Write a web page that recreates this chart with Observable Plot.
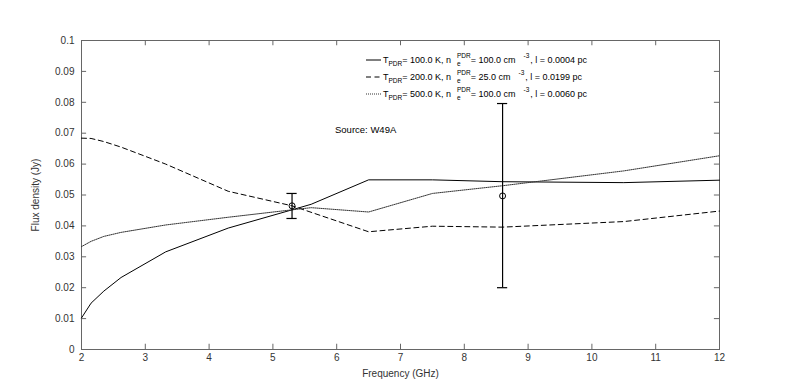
<!DOCTYPE html>
<html><head><meta charset="utf-8">
<script src="https://cdn.jsdelivr.net/npm/d3@7"></script>
<script src="https://cdn.jsdelivr.net/npm/@observablehq/plot@0.6"></script>
<style>
body{margin:0;background:#fff;}
#chart{position:relative;width:800px;height:389px;}
svg{font-family:"Liberation Sans",Arial,Helvetica,sans-serif;}
</style>
</head><body><div id="chart"></div>
<script>
// ---- data ----
const xTicks = [2, 3, 4, 5, 6, 7, 8, 9, 10, 11, 12];
const yTicks = [0, 0.01, 0.02, 0.03, 0.04, 0.05, 0.06, 0.07, 0.08, 0.09, 0.1];
const yTickLabels = ["0", "0.01", "0.02", "0.03", "0.04", "0.05", "0.06", "0.07", "0.08", "0.09", "0.1"];

const freqSolid = [2.0, 2.15, 2.35, 2.62, 3.32, 4.3, 5.3, 5.6, 6.5, 7.5, 8.6, 10.5, 12.0];
const fluxSolid = [0.0102, 0.0150, 0.0189, 0.0233, 0.0316, 0.0393, 0.0452, 0.0470, 0.0549, 0.0549, 0.0543, 0.0540, 0.0548];

const freqDashed = [2.0, 2.15, 2.35, 2.62, 3.32, 4.3, 5.3, 6.5, 7.5, 8.6, 10.5, 12.0];
const fluxDashed = [0.0684, 0.0683, 0.0673, 0.0655, 0.0600, 0.0512, 0.0465, 0.0381, 0.0399, 0.0396, 0.0414, 0.0448];

const freqDotted = [2.0, 2.15, 2.35, 2.62, 3.32, 4.3, 5.3, 5.6, 6.5, 7.5, 8.6, 10.5, 12.0];
const fluxDotted = [0.0333, 0.0350, 0.0366, 0.0379, 0.0403, 0.0428, 0.0452, 0.0459, 0.0445, 0.0505, 0.0530, 0.0578, 0.0627];

const obsFreq = [5.3, 8.6];
const obsFlux = [0.0465, 0.0497];
const obsLow  = [0.0424, 0.0200];
const obsHigh = [0.0505, 0.0796];

const legendT  = ["100.0", "200.0", "500.0"];
const legendNe = ["100.0", "25.0", "100.0"];
const legendL  = ["0.0004", "0.0199", "0.0060"];
const sourceLabel = "Source: W49A";
const xLabel = "Frequency (GHz)";
const yLabel = "Flux density (Jy)";

// ---- styles ----
const AX = "#666";
const dashes = [null, "5,3.5", "1,1"];
const series = [
  {f: freqSolid, v: fluxSolid},
  {f: freqDashed, v: fluxDashed},
  {f: freqDotted, v: fluxDotted}
];
const rows = series.flatMap((s, i) => s.f.map((f, j) => ({f, v: s.v[j], s: i})));
const obs = obsFreq.map((f, i) => ({f, v: obsFlux[i], lo: obsLow[i], hi: obsHigh[i]}));
const tickLenY = 0.0017, tickLenX = 0.08, cap = 0.08;

const marks = [
  Plot.frame({stroke: AX, strokeWidth: 1}),
  Plot.ruleX(xTicks, {x: d => d, y1: 0, y2: tickLenY, stroke: AX}),
  Plot.ruleX(xTicks, {x: d => d, y1: 0.1, y2: 0.1 - tickLenY, stroke: AX}),
  Plot.ruleY(yTicks, {y: d => d, x1: 2, x2: 2 + tickLenX, stroke: AX}),
  Plot.ruleY(yTicks, {y: d => d, x1: 12, x2: 12 - tickLenX, stroke: AX}),
  Plot.axisX(xTicks, {tickSize: 0, tickPadding: 4, tickFormat: d => String(d), label: xLabel, labelAnchor: "center", labelOffset: 27, labelArrow: "none", fill: "#333", fontSize: 10}),
  Plot.axisY(yTicks, {tickSize: 0, tickPadding: 7, tickFormat: (d, i) => yTickLabels[i], label: yLabel, labelAnchor: "center", labelOffset: 50, labelArrow: "none", fill: "#333", fontSize: 10}),
  ...[0, 1, 2].map(i => Plot.line(rows.filter(r => r.s === i), {x: "f", y: "v", stroke: i === 2 ? "#333" : "#000", strokeWidth: 1, strokeDasharray: dashes[i]})),
  Plot.ruleX(obs, {x: "f", y1: "lo", y2: "hi", stroke: "#000", strokeWidth: 1.2}),
  Plot.ruleY(obs, {y: "lo", x1: d => d.f - cap, x2: d => d.f + cap, stroke: "#000", strokeWidth: 1.2}),
  Plot.ruleY(obs, {y: "hi", x1: d => d.f - cap, x2: d => d.f + cap, stroke: "#000", strokeWidth: 1.2}),
  Plot.dot(obs, {x: "f", y: "v", r: 3, stroke: "#000", fill: "none", strokeWidth: 1})
];

const chart = Plot.plot({
  width: 800, height: 389,
  marginLeft: 81, marginRight: 81, marginTop: 40, marginBottom: 40,
  x: {domain: [2, 12]},
  y: {domain: [0, 0.1]},
  style: {fontFamily: '"Liberation Sans",Arial,Helvetica,sans-serif', fontSize: "10px", background: "#fff", overflow: "visible"},
  marks
});
document.getElementById("chart").appendChild(chart);

// ---- legend and annotation (inside axes, MATLAB style) ----
const svg = d3.select(chart);
const ff = '"Liberation Sans",Arial,Helvetica,sans-serif';
const g = svg.append("g").attr("fill", "#000").attr("font-family", ff).attr("text-anchor", "start");
const BIG = 9, SMALL = 6.5;
function seg(x, y, t, size) {
  const el = g.append("text").attr("x", x).attr("y", y).attr("font-size", size).attr("text-anchor", "start").text(t);
  return el.node().getComputedTextLength();
}
const rowY = [63, 80, 97];
rowY.forEach((y, i) => {
  g.append("line").attr("x1", 366).attr("x2", 381).attr("y1", y - 3).attr("y2", y - 3)
    .attr("stroke", i === 2 ? "#333" : "#000").attr("stroke-width", 1)
    .attr("stroke-dasharray", dashes[i]);
  let x = 383;
  x += seg(x, y, "T", BIG);
  x += seg(x, y + 2.5, "PDR", SMALL);
  x += seg(x, y, "= " + legendT[i] + " K, n", BIG);
  x += 6;
  const w1 = seg(x, y - 5, "PDR", SMALL);
  seg(x, y + 3, "e", SMALL);
  x += w1;
  x += seg(x, y, "= " + legendNe[i] + " cm", BIG);
  x += 8;
  x += seg(x, y - 5, "-3", SMALL);
  x += 1;
  seg(x, y, ", l = " + legendL[i] + " pc", BIG);
});
g.append("text").attr("x", 335).attr("y", 133).attr("font-size", 9.5).attr("text-anchor", "start").text(sourceLabel);
</script>
</body></html>
